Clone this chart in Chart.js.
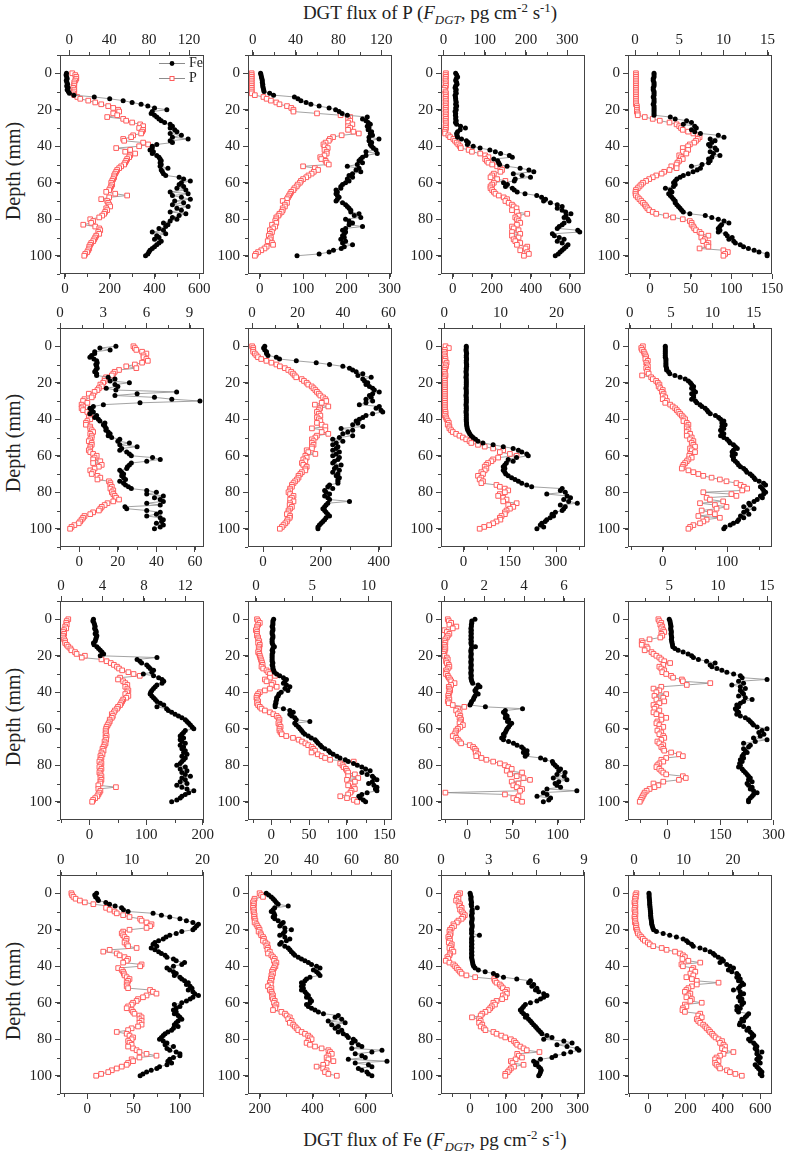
<!DOCTYPE html>
<html>
<head>
<meta charset="utf-8">
<title>DGT flux profiles</title>
<script src="https://cdn.jsdelivr.net/npm/chart.js@4.4.0/dist/chart.umd.min.js"></script>
<style>
  body { margin: 0; background: #fff; width: 787px; height: 1156px; position: relative; overflow: hidden;
         font-family: "Liberation Serif", "Times New Roman", serif; color: #222; }
  canvas { position: absolute; }
  .title { position: absolute; font-size: 19px; white-space: nowrap; transform: translate(-50%, -50%); }
  .title sub, .title sup { font-size: 0.68em; line-height: 0; }
  .ylab { position: absolute; font-size: 20px; white-space: nowrap; transform: translate(-50%, -50%) rotate(-90deg); }
</style>
</head>
<body>
<div class="title" style="left:430px;top:13px">DGT flux of P (<i>F</i><sub><i>DGT</i></sub>, pg cm<sup>-2</sup> s<sup>-1</sup>)</div>
<div class="title" style="left:435px;top:1140px">DGT flux of Fe (<i>F</i><sub><i>DGT</i></sub>, pg cm<sup>-2</sup> s<sup>-1</sup>)</div>
<div class="ylab" style="left:13px;top:171px">Depth (mm)</div>
<div class="ylab" style="left:13px;top:443px">Depth (mm)</div>
<div class="ylab" style="left:13px;top:717px">Depth (mm)</div>
<div class="ylab" style="left:13px;top:991px">Depth (mm)</div>

<script>
// depth below the interface (mm), shared by every profile
const depth = [0,1,2,3,4,5,6,7,8,9,10,11,12,13,14,15,16,17,18,19,20,
  21,22,23,24,25,26,27,28,29,30,31,32,33,34,35,36,37,38,39,40,
  41,42,43,44,45,46,47,48,49,50,51,52,53,54,55,56,57,58,59,60,
  61,62,63,64,65,66,67,68,69,70,71,72,73,74,75,76,77,78,79,80,
  81,82,83,84,85,86,87,88,89,90,91,92,93,94,95,96,97,98,99,100];

// ---- row 1 ----
const fe1 = [7,5,8,10,6,9,12,8,14,10,15,
  20,40,131,200,260,300,340,370,400,455,
  390,385,400,410,420,430,445,470,480,470,
  490,500,470,520,480,550,470,480,410,390,
  390,380,395,390,410,420,425,430,425,430,
  425,460,430,435,440,450,510,530,560,520,
  510,530,500,540,470,550,480,520,560,490,
  530,480,550,500,520,470,540,510,480,500,
  470,440,460,450,420,440,390,450,410,420,
  400,430,420,410,400,390,380,375,370,360];
const p1 = [3,6,7,7,6,5,5,5,4,5,5,
  4,5,8,11,19,26,32,39,44,49,
  50,44,48,38,54,57,63,71,74,70,
  74,73,72,64,62,54,55,74,79,70,
  47,61,56,66,61,60,58,57,56,55,
  52,50,48,47,46,45,45,44,43,42,
  43,42,41,40,37,46,58,40,32,38,
  39,40,41,37,38,36,35,33,30,21,
  24,22,14,26,30,31,29,30,27,26,
  25,24,22,21,20,20,19,18,16,15];

const fe2 = [2,3,4,5,6,6,7,7,8,9,10,
  23,32,80,88,95,107,118,137,160,175,
  183,190,202,248,237,245,250,255,248,252,
  250,258,255,260,252,275,252,258,255,258,
  262,268,245,271,245,237,233,229,237,225,
  202,229,222,233,214,206,214,202,206,198,
  191,187,187,176,179,176,179,183,179,176,
  191,198,202,206,210,210,229,218,233,198,
  206,214,206,237,198,191,198,195,191,195,
  187,198,191,214,195,188,170,160,137,86];
const p2 = [-1,-1,-1,-1,-1,-1,-1,-1,-1,-1,-1,
  -1,2,10,13,17,22,25,32,36,38,
  38,60,82,91,89,91,89,93,89,91,
  89,94,99,83,75,72,71,68,66,67,
  70,67,69,69,67,63,64,68,69,71,
  47,58,61,57,55,52,50,47,45,44,
  42,41,39,38,36,35,34,33,32,28,
  32,30,30,28,28,27,25,24,22,22,
  21,22,18,21,19,16,18,16,15,17,
  16,14,18,19,13,11,8,5,3,2];

const fe3 = [15,20,25,18,15,20,22,15,12,18,15,
  18,12,14,15,16,18,15,20,15,18,
  12,15,14,16,15,18,14,20,40,65,
  38,25,20,22,25,45,70,80,75,105,
  140,190,218,245,290,305,210,230,235,240,
  278,345,390,415,310,355,398,320,315,260,
  280,270,305,315,330,370,430,455,475,465,
  500,535,560,535,560,578,605,580,570,590,
  595,570,560,545,535,640,650,510,520,545,
  570,535,560,590,580,570,560,550,540,525];
const p3 = [6,5,6,5,5,6,5,6,4,1,5,
  6,5,6,5,6,5,6,5,6,5,
  6,5,6,5,6,5,6,6,5,6,
  5,3,4,12,16,24,28,32,36,40,
  42,61,69,89,101,109,101,105,109,118,
  130,138,142,138,122,118,114,130,150,122,
  118,114,114,118,122,126,134,146,154,150,
  158,166,170,177,166,178,203,182,174,178,
  182,186,178,166,170,182,166,186,166,182,
  170,174,186,178,203,199,186,203,207,195];

const fe4 = [5,5,5,4,4,5,5,5,4,4,5,
  5,5,4,5,5,5,4,5,5,5,
  5,5,5,25,31,45,51,41,55,57,
  51,55,62,84,91,74,80,76,72,74,
  80,82,74,78,86,76,72,74,72,64,
  51,62,58,53,47,41,37,33,31,29,
  31,29,19,25,27,23,25,27,29,31,
  31,33,35,37,39,41,49,68,76,84,
  91,97,88,86,84,86,84,93,95,101,
  97,103,105,111,115,121,128,134,144,144];
const p4 = [0.1,0.1,0.1,0.1,0.1,0.1,0.1,0.1,0.1,0.1,0.1,
  0.1,0.1,0.1,0.1,0.1,0.1,0.1,0.2,0.2,0.2,
  0.2,0.3,0.3,1.1,2.0,2.8,3.9,4.7,5.0,5.2,
  5.4,6.0,6.6,7.1,7.3,7.1,6.9,6.7,6.2,6.0,
  5.4,6.0,5.4,5.8,5.0,5.2,5.4,5.0,4.8,4.7,
  4.1,4.7,3.9,3.3,3.0,2.4,2.0,1.6,1.25,0.9,
  0.7,0.5,0.3,0.1,0.05,0.05,0.1,0.3,0.5,0.7,
  0.9,1.1,1.25,1.4,1.6,2.0,2.4,3.5,4.3,5.4,
  6.2,6.4,6.4,6.6,6.7,6.9,7.3,7.5,8.3,7.5,
  7.9,7.7,8.3,8.1,8.3,7.3,10.0,10.5,10.2,10.0];

// ---- row 2 ----
const fe5 = [19,10.7,16,8,8,6.4,5.5,7.6,9,9.3,8.6,
  9,9.3,8.6,8,9,9,15,18.5,16,26,
  18.5,20,14,19,50.5,30,18.5,39,48,62.6,
  31.5,12.5,7.3,5.5,6.4,7.3,5.5,9,8,9.9,
  10.7,13.3,12.5,13.3,14,13.8,15,16,15,16.8,
  21,20,26,21,30,22,21,24.6,26,27,
  38,42,35,27,26,25,24.6,21,22,23,
  22,23,24,21,23,24,25.5,27,35,40,
  35,43.6,39,42,43.6,35,42,23.7,24.6,35,
  42,40,35,42,43.6,42.7,40,43.6,42,39];
const p5 = [5.1,5.2,5.3,5.7,6.0,5.8,5.8,6.0,6.1,5.7,5.2,
  4.6,5.3,4.1,3.8,3.7,3.6,3.2,3.1,3.1,3.0,
  2.8,2.9,2.7,2.6,2.4,2.0,2.3,2.2,1.7,1.6,
  1.9,1.5,1.6,1.5,1.6,1.9,2.1,2.1,2.0,2.1,
  1.9,1.8,1.8,2.1,2.1,2.2,2.3,2.1,2.2,2.2,
  2.1,2.0,2.2,2.2,2.1,2.1,2.0,2.1,2.3,2.55,
  2.4,2.3,2.8,2.3,2.9,2.7,2.4,2.1,2.3,2.2,
  2.6,2.8,2.6,3.4,3.5,3.5,3.6,3.5,3.7,3.6,
  3.7,3.8,3.9,4.1,3.7,3.3,3.1,2.9,2.8,2.7,
  2.3,2.1,1.7,1.6,1.5,1.4,1.3,1.0,0.8,0.7];

const fe6 = [6,2,6,12,12,17,46,57,115,184,230,
  276,299,310,322,345,328,374,345,351,362,
  356,368,379,385,402,379,368,374,356,379,
  356,333,402,391,408,414,379,356,345,333,
  322,328,310,345,270,310,293,276,310,264,
  241,276,253,241,259,253,241,264,253,241,
  264,259,247,241,270,253,247,264,241,259,
  253,264,259,259,259,230,224,241,213,218,
  230,213,224,230,299,224,218,213,207,213,
  218,224,230,218,213,207,201,195,190,190];
const p6 = [0,0.5,0.5,0.5,1.2,1.9,2.6,4,6.3,8.5,10.7,
  12.2,14.4,15.9,17.2,18,18.7,19.4,21.8,22.8,24,
  24.7,26.2,27,27.8,28.5,29.3,30,31.2,32.2,32.6,
  30.6,27.6,33.5,29.9,29.3,28.5,29.3,30,28.5,29.3,
  30,28.5,30.6,32.2,26.3,32.2,30.6,33.5,28.5,27.8,
  26.3,27,26.3,27,26.3,26.3,24,24.7,27.8,23.4,
  24,22.5,23.4,21.9,22.5,24,23.4,23.4,21.9,21.2,
  20.4,20.4,19.7,18.9,18.2,17.5,17.5,16.7,16.7,16,
  16.7,18.2,17.5,16.7,18.2,16.7,16.5,17.5,16.7,16,
  16,15.3,16.7,16.5,15.6,15.3,14.6,13.8,13.1,12.2];

const fe7 = [9,9,8,9,10,9,9,10,9,9,10,
  10,9,9,8,9,9,8,9,9,9,
  9,9,8,9,9,9,8,9,9,9,
  9,8,9,9,9,8,9,9,9,9,
  9,10,10,11,12,14,17,20,25,31,
  39,47,63,96,129,161,178,189,205,210,
  172,145,161,139,134,129,134,129,134,137,
  145,156,167,178,189,205,221,320,314,330,
  270,336,347,325,341,369,314,330,325,320,
  298,287,292,281,270,265,254,249,260,238];
const p7 = [0.2,0.8,0.1,0,0.1,0,0.1,0.2,0.1,0.4,0.2,
  0.3,0.1,0.1,0,0.1,0.2,0.1,0,0.1,0.1,
  0.1,0.1,0.1,0.1,0.1,0.1,0.1,0.1,0.1,0.1,
  0.1,0.1,0.1,0.1,0.1,0.2,0.2,0.1,0.3,0.4,
  0.6,0.8,0.6,0.9,0.9,1.2,1.5,2.1,2.7,3.3,
  3.9,4.5,4.8,6,7.2,8.7,10.5,9.9,11.7,12.9,
  9.6,8.7,8.4,7.8,7.5,7.2,7.5,7.2,6.6,6.9,
  6,6.6,6.3,6.9,6.6,9.3,9.9,10.8,11.4,10.8,
  9.9,9.6,10.5,11.1,10.5,12.9,11.4,12.3,11.7,11.1,
  10.8,10.8,10.2,9.9,10,9.3,8.7,8,7.1,6.3];

const fe8 = [4,4,4,4,4,4,4,5,5,5,5,
  5,6,6,9,11,19,27,35,40,43,
  45,48,45,48,51,45,48,48,45,51,
  53,58,61,66,69,71,74,82,87,90,
  95,92,97,92,95,90,92,95,90,95,
  100,103,105,110,113,116,110,108,113,108,
  110,110,113,116,118,121,126,129,131,136,
  139,142,144,150,157,160,152,155,157,160,
  157,152,155,147,142,134,136,126,142,131,
  126,134,121,126,118,116,110,105,97,95];
const p8 = [1.6,1.4,1.5,1.7,1.8,1.9,2.0,1.9,2.2,2.0,2.1,
  2.2,2.0,2.2,2.1,2.3,1.5,2.6,2.8,3.2,3.4,
  3.6,3.5,3.7,4.0,3.9,4.1,4.0,4.3,4.0,4.5,
  4.3,4.9,5.2,5.5,5.7,5.9,6.1,6.3,6.5,6.7,
  6.5,6.9,7.1,6.9,6.9,7.1,6.9,7.3,6.9,7.5,
  7.3,7.7,7.5,7.7,7.9,7.3,7.5,7.9,7.3,7.2,
  7.5,7.1,6.9,6.7,6.5,6.4,6.3,7.1,7.7,8.3,
  8.9,9.9,10.9,11.7,12.9,13.4,13.8,14.2,13.6,8.9,
  12.3,12.9,9.3,9.7,11.3,8.5,10.3,11.7,10.5,8.7,
  9.7,10.3,8.3,10.9,9.3,8.9,8.5,7.7,7.3,7.1];

// ---- row 3 ----
const fe9 = [7,6,8,9,10,9,11,12,10,13,12,
  11,10,7,8,13,16,19,22,25,19,
  119,84,89,92,101,104,107,113,110,95,
  113,122,128,131,128,119,116,113,110,108,
  107,110,113,116,119,125,131,119,136,139,
  145,151,157,163,169,172,175,178,181,184,
  169,166,163,160,166,160,163,169,160,166,
  163,169,166,172,163,169,166,163,160,154,
  169,160,172,163,169,178,163,169,160,172,
  154,163,172,184,175,169,163,160,154,145];
const p9 = [0.7,0.55,0.5,0.55,0.4,0.5,0.3,0.2,0.3,0.2,0.2,
  0.3,0.4,0.4,0.55,0.7,0.9,1.0,1.35,1.5,2.3,
  2.0,3.9,4.4,4.8,5.1,5.4,5.6,5.9,6.5,7.0,
  7.6,5.7,5.5,6.0,6.2,6.4,6.2,6.4,6.5,6.4,
  6.2,6.5,6.3,6.0,5.9,5.8,5.7,5.5,5.4,5.2,
  5.1,4.9,5.0,4.9,4.7,4.7,4.6,4.5,4.4,4.35,
  4.3,4.35,4.3,4.4,4.3,4.35,4.2,4.3,4.2,4.1,
  4.0,4.1,3.9,4.0,3.8,3.9,3.8,3.7,3.9,3.8,
  3.7,3.9,3.8,3.7,3.8,3.9,3.8,3.9,3.8,3.8,
  3.6,5.3,3.6,3.8,3.7,3.6,3.5,3.3,3.1,3.0];

const fe10 = [3,2,2,2,1,2,2,1,1,2,2,
  1,1,1,2,4,2,1,2,1,1,
  1,1,1,2,1,2,2,3,4,7,
  11,16,20,18,16,20,24.5,18,22,13,
  10,9,7,7,6,6,5,5,16,24.5,
  29,24.5,27,31,33,51,31,33,36,38,
  40,42,44.5,49,53,58,60,62,65,67,
  71,76,78,82,87,91,98,102,109,114,
  120,125,131,120,127,134,136,140,134,129,
  136,140,138,140,127,120,116,118,122,125];
const p10 = [0.1,0.2,0.35,0.2,0.1,0.1,0,0.1,0.1,0.1,0.2,
  0.2,0.3,0.2,0.35,0.3,0.25,0.3,0.2,0.3,0.35,
  0.4,0.45,0.5,0.55,0.6,0.5,0.65,0.95,1.1,1.25,
  1.7,1.25,0.8,0.95,1.55,1.4,1.85,1.25,0.8,0.35,
  0.2,0.1,0.05,0.1,0.2,0.1,0.2,0.35,0.5,0.8,
  1.25,1.55,1.85,2.0,2.1,2.05,2.0,2.1,2.2,2.1,
  2.1,2.2,2.3,2.7,3.3,3.8,4.1,4.4,4.65,4.95,
  5.1,5.25,4.95,5.5,5.85,6.15,6.6,8.7,7.5,7.7,
  7.8,8.0,8.1,8.2,8.8,8.2,9.1,8.1,8.8,8.4,
  8.2,8.7,8.8,8.5,8.4,8.2,7.5,8.1,8.7,9.0];

const fe11 = [8.5,5,5,4.5,4.5,4,4.5,4,4.5,4,4.5,
  4,4.5,4,4.5,9,4.5,4,4,4.5,4,
  4,4.5,4,4,4.5,4,4,4.5,4,4,
  4.5,4,4.5,5,6,12,14,10,8.5,9.6,
  12,8.5,7.4,6.7,4.8,4,3,20,61,42,
  40,42,44,42,45.6,44.4,49,47,45.6,44,
  43,42,40,40.7,38,40,45.6,51,55,60,
  62,66,62,66,64,81,86,94,95,97,
  99,103,101,108,99,107,95,110,101,97,
  99,103,88,121,84,88,77,92,90,84];
const p11 = [0.17,0.22,0.34,0.25,0.6,0.42,0,0.12,0.25,0.17,0.12,
  0.05,0,0.05,0,0.03,0.05,0.02,0,-0.05,0,
  0.12,0.17,0.08,0.12,0.22,0.25,0.17,0.08,0.12,0.08,
  0.17,0.22,0.29,0.34,0.51,0.34,0.22,0.25,0.29,0.25,
  0.22,0.19,0.22,0.25,0.17,0.22,0.42,1.0,0.68,0.59,
  0.76,0.68,0.8,0.76,0.84,0.8,0.76,0.93,0.8,0.68,
  0.59,0.56,0.51,0.42,0.59,0.68,0.76,0.84,1.27,1.44,
  1.52,1.6,1.57,1.69,1.6,1.86,2.11,2.45,2.79,3.04,
  3.21,3.38,3.13,3.9,3.3,3.63,3.97,4.3,3.38,3.72,
  3.46,3.63,3.9,3.8,0.05,3.04,3.72,3.46,3.63,3.9];

const fe12 = [6,8,9,10,11,10,11,12,11,12,13,
  12,13,14,15,16,22,31,45,59,69,
  74,88,111,135,121,126,140,154,168,187,
  206,211,281,201,215,182,206,220,206,211,
  215,201,220,239,215,206,196,201,192,196,
  201,196,206,220,229,234,239,243,253,281,
  267,258,272,262,243,281,248,215,234,229,
  215,220,225,215,211,215,206,211,204,206,
  201,211,215,220,225,229,234,229,239,225,
  229,239,234,243,253,243,239,234,229,229];
const p12 = [3.9,4.0,4.2,4.1,4.3,4.2,4.4,4.5,4.2,4.3,4.1,
  3.0,2.2,2.3,2.2,2.7,2.8,2.5,3.2,3.4,3.7,
  4.0,4.2,4.5,5.1,4.4,4.0,4.2,4.5,4.3,4.7,
  5.2,5.4,6.3,6.4,9.2,6.8,4.2,3.4,4.0,3.7,
  4.7,3.5,4.4,3.7,4.5,4.0,3.4,3.7,3.5,4.0,
  3.4,3.7,4.2,4.7,4.2,3.8,3.7,4.0,4.4,4.0,
  3.8,4.2,4.0,4.4,4.5,4.2,3.8,4.0,4.4,4.2,
  4.4,4.5,5.2,6.0,6.4,4.7,4.2,4.4,4.0,3.8,
  3.7,4.0,4.2,4.4,4.7,6.4,6.7,6.0,4.4,3.4,
  3.9,3.5,3.0,2.7,2.5,2.4,2.3,2.2,2.1,2.0];

// ---- row 4 ----
const fe13 = [10,8,9,11,12,20,24,30,37,39,44,
  71,80,89,100,107,114,120,118,116,114,
  102,96,89,85,82,77,73,71,75,69,
  73,77,80,84,86,93,96,105,102,93,
  86,89,93,96,94,100,102,105,109,107,
  111,113,109,114,116,120,114,111,107,102,
  94,100,96,93,96,94,98,100,102,98,
  96,94,98,93,91,87,84,82,80,78,
  82,86,84,93,86,89,96,100,100,93,
  89,87,91,86,78,75,69,64,60,57];
const p13 = [1.5,1.6,1.8,2.1,2.7,3.4,4.6,6.7,6.4,6.9,7.6,
  7.9,8.8,9.7,11.2,11.4,12.1,12.8,12.6,12.1,9.7,
  8.8,8.6,8.8,9.0,9.3,9.2,9.0,9.3,9.5,10.7,
  6.9,6.0,7.9,8.3,9.0,9.5,9.3,8.8,11.4,11.2,
  8.1,8.6,8.8,8.9,9.0,9.3,9.7,9.5,9.3,9.4,
  9.3,9.5,12.6,13.0,13.5,12.1,11.6,10.9,10.7,10.2,
  10.0,9.5,9.3,10.0,10.2,10.4,11.1,11.4,11.1,11.4,
  11.1,11.4,10.9,10.0,9.5,7.9,9.3,9.7,10.2,10.0,
  9.5,9.7,10.0,9.5,10.2,10.7,11.1,12.1,13.5,11.1,
  10.0,10.2,9.5,9.3,8.6,7.9,7.2,6.7,5.7,5.0];

const fe14 = [225,234,244,251,257,263,270,308,257,251,244,
  254,257,251,257,270,289,282,276,295,320,
  295,289,276,295,314,301,282,276,295,308,
  314,320,327,333,346,358,371,384,396,415,
  428,403,415,422,428,390,377,371,358,365,
  358,365,358,371,377,384,377,390,396,390,
  377,384,396,409,422,441,497,485,510,459,
  523,472,497,485,510,497,516,529,535,554,
  561,548,573,586,548,662,624,561,586,599,
  535,681,561,611,624,573,586,605,611,624];
const p14 = [14.1,14.9,15.8,11.6,11.3,10.8,11.3,11.0,10.8,11.3,11.0,
  11.3,11.6,11.3,11.6,12.0,11.6,12.5,13.0,13.6,14.1,
  13.6,14.6,14.9,15.8,16.3,15.8,17.0,18.0,17.5,18.3,
  18.0,19.2,18.3,20.0,20.8,21.7,21.3,22.5,21.7,22.0,
  21.3,20.8,20.3,20.8,20.0,20.3,19.7,20.0,19.2,19.7,
  18.3,20.0,19.2,20.0,20.3,20.8,20.3,20.8,21.7,21.3,
  22.5,21.7,22.0,20.8,25.0,26.8,27.6,29.2,28.4,30.1,
  29.2,30.9,31.7,32.6,33.4,35.1,36.8,38.4,39.3,40.1,
  38.4,37.6,39.3,41.8,45.1,48.5,49.3,50.2,48.5,47.6,
  48.5,51.0,47.6,45.9,42.6,45.9,47.6,46.8,48.5,52.7];

const fe15 = [0,1,3,2,3,4,3,4,20,6,5,
  6,4,5,6,5,4,5,6,5,4,
  5,4,26,5,4,5,4,5,4,5,
  4,5,4,5,4,5,6,7,8,10,
  14,23,42,65,75,93,130,168,163,177,
  172,186,182,191,205,214,205,196,186,168,
  154,149,145,140,144,149,158,154,163,168,
  172,177,182,186,191,196,200,214,228,205,
  261,284,242,270,298,303,280,261,238,228,
  196,177,186,182,191,196,198,196,194,191];
const p15 = [1.2,1.1,1.0,1.1,0.95,1.1,1.2,1.15,1.3,1.2,1.3,
  1.4,1.5,1.4,1.3,1.1,1.0,0.78,0.82,0.68,0.57,
  0.53,0.61,0.57,0.46,0.53,0.57,0.49,0.68,0.61,0.53,
  0.68,0.78,0.57,0.53,0.4,0.46,0.3,0.53,0.78,0.89,
  0.99,1.1,1.2,1.3,1.6,2.15,3.35,3.4,3.5,3.7,
  3.8,3.9,4.15,4.05,4.15,3.9,4.05,3.85,3.5,3.3,
  3.4,3.2,3.1,3.0,2.8,2.6,2.5,1.95,2.4,2.5,
  2.4,2.6,2.5,2.7,2.8,3.3,3.5,3.8,4.05,4.4,
  4.6,4.7,4.8,5.0,5.2,5.4,6.2,4.8,4.9,5.1,
  4.7,4.4,4.5,5.2,4.6,4.4,4.3,4.2,4.05,4.05];

const fe16 = [5,6,6,7,8,9,9,10,11,12,13,
  14,14,15,16,18,19,20,23,26,30,
  45,81,116,152,188,206,215,233,242,278,
  305,332,349,358,376,394,403,385,421,439,
  457,430,448,475,484,475,493,484,502,511,
  493,484,457,493,511,493,484,502,493,511,
  502,475,493,475,484,538,529,520,502,511,
  493,489,511,538,529,547,556,565,556,538,
  547,565,573,582,573,582,609,582,591,600,
  582,591,600,573,582,591,600,609,600,609];
const p16 = [0.5,0.3,0.4,0.2,0.3,0.1,0.2,0.3,0.2,0.1,0.3,
  0.2,0.3,0.1,0.2,0.3,0.2,0.4,0.5,0.4,0.6,
  0.7,0.8,1.15,1.5,1.8,2.2,2.8,3.2,3.9,5.6,
  6.6,8.3,9.3,9.9,10.3,9.8,11.0,13.4,9.6,9.9,
  12.0,11.7,12.4,11.4,12.0,10.6,11.7,12.7,17.1,12.7,
  11.7,11.0,10.6,10.3,11.4,11.0,10.6,11.7,11.4,13.7,
  10.3,10.6,9.9,9.8,10.3,13.4,13.0,13.7,12.7,13.0,
  13.4,14.0,14.4,14.7,15.1,15.4,15.8,16.1,16.5,17.1,
  17.8,17.4,18.1,18.4,17.8,18.4,20.1,18.1,17.4,16.7,
  16.4,17.1,16.4,16.7,17.1,17.4,18.8,19.4,20.5,21.8];

const depthTicks = [0, 20, 40, 60, 80, 100];

// axis ranges and labelled ticks of every panel (Fe = bottom axis, P = top axis)
const panels = [
  {fe: fe1,  p: p1,  feMin: -22,  feMax: 621, feTicks: [0,200,400,600], pMin: -9.3,  pMax: 135,  pTicks: [0,40,80,120]},
  {fe: fe2,  p: p2,  feMin: -27,  feMax: 305, feTicks: [0,100,200,300], pMin: -4.4,  pMax: 130,  pTicks: [0,40,80,120]},
  {fe: fe3,  p: p3,  feMin: -60,  feMax: 677, feTicks: [0,200,400,600], pMin: -6,    pMax: 343,  pTicks: [0,100,200,300]},
  {fe: fe4,  p: p4,  feMin: -27,  feMax: 150, feTicks: [0,50,100,150],  pMin: -0.8,  pMax: 15.5, pTicks: [0,5,10,15]},
  {fe: fe5,  p: p5,  feMin: -10,  feMax: 64.7,feTicks: [0,20,40,60],    pMin: 0,     pMax: 10,   pTicks: [0,3,6,9]},
  {fe: fe6,  p: p6,  feMin: -52,  feMax: 446, feTicks: [0,200,400],     pMin: -1.8,  pMax: 61.5, pTicks: [0,20,40,60]},
  {fe: fe7,  p: p7,  feMin: -73,  feMax: 394, feTicks: [0,150,300],     pMin: -0.6,  pMax: 25.1, pTicks: [0,10,20]},
  {fe: fe8,  p: p8,  feMin: -54,  feMax: 170, feTicks: [0,100],         pMin: -0.2,  pMax: 17.2, pTicks: [0,5,10,15]},
  {fe: fe9,  p: p9,  feMin: -52,  feMax: 202, feTicks: [0,100,200],     pMin: -0.1,  pMax: 13.8, pTicks: [0,4,8,12]},
  {fe: fe10, p: p10, feMin: -31,  feMax: 160, feTicks: [0,50,100,150],  pMin: -0.7,  pMax: 12.1, pTicks: [0,5,10]},
  {fe: fe11, p: p11, feMin: -29,  feMax: 130, feTicks: [0,50,100],      pMin: -0.17, pMax: 7.06, pTicks: [0,2,4,6]},
  {fe: fe12, p: p12, feMin: -110, feMax: 295, feTicks: [0,150,300],     pMin: 0.8,   pMax: 15.5, pTicks: [5,10,15]},
  {fe: fe13, p: p13, feMin: -29.5,feMax: 126, feTicks: [0,50,100],      pMin: -0.1,  pMax: 20.2, pTicks: [0,10,20]},
  {fe: fe14, p: p14, feMin: 156,  feMax: 700, feTicks: [200,400,600],   pMin: 8.3,   pMax: 80.3, pTicks: [20,40,60,80]},
  {fe: fe15, p: p15, feMin: -81,  feMax: 320, feTicks: [0,100,200,300], pMin: 0,     pMax: 9.07, pTicks: [0,3,6,9]},
  {fe: fe16, p: p16, feMin: -107, feMax: 663, feTicks: [0,200,400,600], pMin: -1.2,  pMax: 27.9, pTicks: [0,10,20]}
];

// page layout: left / top edge of each plot box
const colX = [60, 248, 441, 628];
const rowY = [55, 328, 601, 875];
const plotW = 144, plotH = 219;
const padL = 56, padT = 40, padR = 26, padB = 40;

const serif = "'Liberation Serif', 'Times New Roman', serif";
Chart.defaults.font.family = serif;
const tickFont = {family: serif, size: 15, style: 'normal', weight: 'normal'};
const axisColor = '#444';

// frame round the plot box + short minor ticks between the labelled ones
const framePlugin = {
  id: 'frameBox',
  afterDraw(chart, args, opts) {
    const {ctx, chartArea: a} = chart;
    ctx.save();
    ctx.strokeStyle = axisColor;
    ctx.lineWidth = 1;
    ctx.strokeRect(Math.round(a.left) + 0.5, Math.round(a.top) + 0.5,
                   Math.round(a.width) - 1, Math.round(a.height) - 1);
    for (const id of Object.keys(opts.minor || {})) {
      const s = chart.scales[id];
      const step = opts.minor[id];
      const lo = Math.min(s.min, s.max), hi = Math.max(s.min, s.max);
      for (let i = Math.ceil(lo / step - 1e-9); i * step <= hi + 1e-9; i++) {
        const px = Math.round(s.getPixelForValue(i * step)) + 0.5;
        ctx.beginPath();
        if (s.axis === 'y') { ctx.moveTo(a.left, px); ctx.lineTo(a.left - 3, px); }
        else if (s.position === 'top') { ctx.moveTo(px, a.top); ctx.lineTo(px, a.top - 3); }
        else { ctx.moveTo(px, a.bottom); ctx.lineTo(px, a.bottom + 3); }
        ctx.stroke();
      }
    }
    ctx.restore();
  }
};

// small legend inside the first panel
const legendPlugin = {
  id: 'innerLegend',
  afterDraw(chart, args, opts) {
    if (!opts.show) return;
    const {ctx, chartArea: a} = chart;
    ctx.save();
    ctx.font = '14px ' + serif;
    ctx.textBaseline = 'middle';
    chart.data.datasets.forEach((ds, k) => {
      const y = Math.round(a.top + 8 + k * 15) + 0.5;
      const x0 = a.left + 99, x1 = a.left + 125, xm = (x0 + x1) / 2;
      ctx.strokeStyle = ds.borderColor;
      ctx.lineWidth = 1;
      ctx.beginPath(); ctx.moveTo(x0, y); ctx.lineTo(x1, y); ctx.stroke();
      if (ds.pointStyle === 'circle') {
        ctx.fillStyle = ds.pointBackgroundColor;
        ctx.beginPath(); ctx.arc(xm, y, 2.4, 0, Math.PI * 2); ctx.fill();
      } else {
        ctx.fillStyle = '#fff';
        ctx.fillRect(xm - 2, y - 2, 4, 4);
        ctx.strokeStyle = ds.pointBorderColor;
        ctx.strokeRect(xm - 2, y - 2, 4, 4);
      }
      ctx.fillStyle = '#222';
      ctx.fillText(ds.label, x1 + 4, y);
    });
    ctx.restore();
  }
};

function horizAxis(pos, min, max, ticks) {
  return {
    type: 'linear', position: pos, min: min, max: max,
    afterBuildTicks: s => { s.ticks = ticks.map(v => ({value: v})); },
    afterFit: s => { s.height = pos === 'top' ? padT : padB; },
    grid: {drawOnChartArea: false, tickLength: 5, color: axisColor, lineWidth: 1},
    border: {display: false},
    ticks: {font: tickFont, color: '#222', padding: 1, maxRotation: 0, autoSkip: false,
            callback: v => String(v)}
  };
}

panels.forEach((cfg, k) => {
  const cv = document.createElement('canvas');
  cv.width = padL + plotW + padR;
  cv.height = padT + plotH + padB;
  cv.style.left = (colX[k % 4] - padL) + 'px';
  cv.style.top = (rowY[Math.floor(k / 4)] - padT) + 'px';
  document.body.appendChild(cv);

  const feStep = cfg.feTicks[1] - cfg.feTicks[0];
  const pStep = cfg.pTicks[1] - cfg.pTicks[0];

  new Chart(cv, {
    type: 'scatter',
    data: {
      datasets: [
        {
          label: 'Fe',
          data: depth.map((d, i) => ({x: cfg.fe[i], y: d})),
          xAxisID: 'xFe', yAxisID: 'y',
          showLine: true, borderColor: '#8c8c8c', borderWidth: 0.8,
          pointStyle: 'circle', pointRadius: 2.5,
          pointBackgroundColor: '#000', pointBorderColor: '#000', pointBorderWidth: 0
        },
        {
          label: 'P',
          data: depth.map((d, i) => ({x: cfg.p[i], y: d})),
          xAxisID: 'xP', yAxisID: 'y',
          showLine: true, borderColor: '#8c8c8c', borderWidth: 0.8,
          pointStyle: 'rect', pointRadius: 3.3,
          pointBackgroundColor: '#fff', pointBorderColor: '#ff5c5c', pointBorderWidth: 1
        }
      ]
    },
    options: {
      responsive: false,
      animation: false,
      devicePixelRatio: 1,
      layout: {padding: {left: 0, right: padR, top: 0, bottom: 0}},
      scales: {
        xFe: horizAxis('bottom', cfg.feMin, cfg.feMax, cfg.feTicks),
        xP: horizAxis('top', cfg.pMin, cfg.pMax, cfg.pTicks),
        y: {
          type: 'linear', position: 'left', reverse: true, min: -10, max: 110,
          afterBuildTicks: s => { s.ticks = depthTicks.map(v => ({value: v})); },
          afterFit: s => { s.width = padL; },
          grid: {drawOnChartArea: false, tickLength: 5, color: axisColor, lineWidth: 1},
          border: {display: false},
          ticks: {font: tickFont, color: '#222', padding: 3, autoSkip: false, callback: v => String(v)}
        }
      },
      plugins: {
        legend: {display: false},
        tooltip: {enabled: false},
        frameBox: {minor: {xFe: feStep / 2, xP: pStep / 2, y: 10}},
        innerLegend: {show: k === 0}
      }
    },
    plugins: [framePlugin, legendPlugin]
  });
});
</script>
</body>
</html>
